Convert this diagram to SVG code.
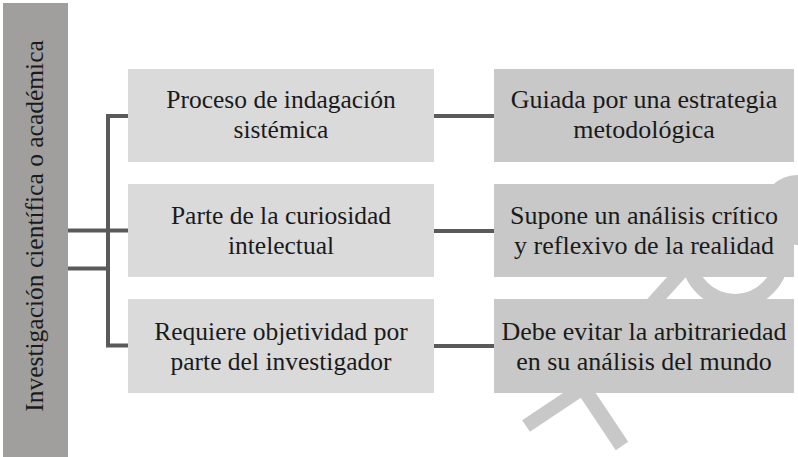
<svg xmlns="http://www.w3.org/2000/svg" width="798" height="457" viewBox="0 0 798 457">
<style>
.bar{fill:#a09f9e}
.lbox{fill:#dadada}
.rbox{fill:#c8c8c8}
.t{font-family:'Liberation Serif',serif;font-size:25.5px;fill:#1a1a1a;text-anchor:middle}
.r{font-size:26px}
.c{stroke:#5a5a5a;stroke-width:4;fill:none}
.wm{stroke:#c8c8c8;fill:none}
</style>
<rect width="798" height="457" fill="#ffffff"/>
<g id="watermark">
<line class="wm" x1="526" y1="426" x2="598" y2="378" stroke-width="14"/>
<line class="wm" x1="578" y1="380" x2="622" y2="446" stroke-width="15"/>
<line class="wm" x1="645" y1="312" x2="690" y2="262" stroke-width="14"/>
<circle class="wm" cx="735" cy="255" r="46.5" stroke-width="15"/>
<circle cx="797" cy="210" r="35" fill="#c8c8c8"/>
</g>
<g id="connectors">
<line class="c" x1="68" y1="230.5" x2="128" y2="230.5"/>
<line class="c" x1="68" y1="268.5" x2="108" y2="268.5"/>
<polyline class="c" points="128,116 108,116 108,345.5 128,345.5"/>
<line class="c" x1="434" y1="116" x2="494" y2="116"/>
<line class="c" x1="434" y1="231" x2="494" y2="231"/>
<line class="c" x1="434" y1="346" x2="494" y2="346"/>
</g>
<g id="root">
<rect class="bar" x="3" y="3" width="65" height="454"/>
<text class="t" transform="translate(43,226) rotate(-90)">Investigación científica o académica</text>
</g>
<g id="n1">
<rect class="lbox" x="128" y="69" width="306" height="93"/>
<text class="t" x="281" y="108">Proceso de indagación</text>
<text class="t" x="281" y="138">sistémica</text>
</g>
<g id="n2">
<rect class="lbox" x="128" y="184" width="306" height="93"/>
<text class="t" x="281" y="224">Parte de la curiosidad</text>
<text class="t" x="281" y="254">intelectual</text>
</g>
<g id="n3">
<rect class="lbox" x="128" y="299" width="306" height="94"/>
<text class="t" x="281" y="340">Requiere objetividad por</text>
<text class="t" x="281" y="370">parte del investigador</text>
</g>
<g id="r1">
<rect class="rbox" x="494" y="69" width="300" height="93"/>
<text class="t r" x="644" y="108">Guiada por una estrategia</text>
<text class="t r" x="644" y="138">metodológica</text>
</g>
<g id="r2">
<rect class="rbox" x="494" y="184" width="300" height="93"/>
<text class="t r" x="644" y="224">Supone un análisis crítico</text>
<text class="t r" x="644" y="254">y reflexivo de la realidad</text>
</g>
<g id="r3">
<rect class="rbox" x="494" y="299" width="300" height="94"/>
<text class="t r" x="644" y="340">Debe evitar la arbitrariedad</text>
<text class="t r" x="644" y="370">en su análisis del mundo</text>
</g>
</svg>
